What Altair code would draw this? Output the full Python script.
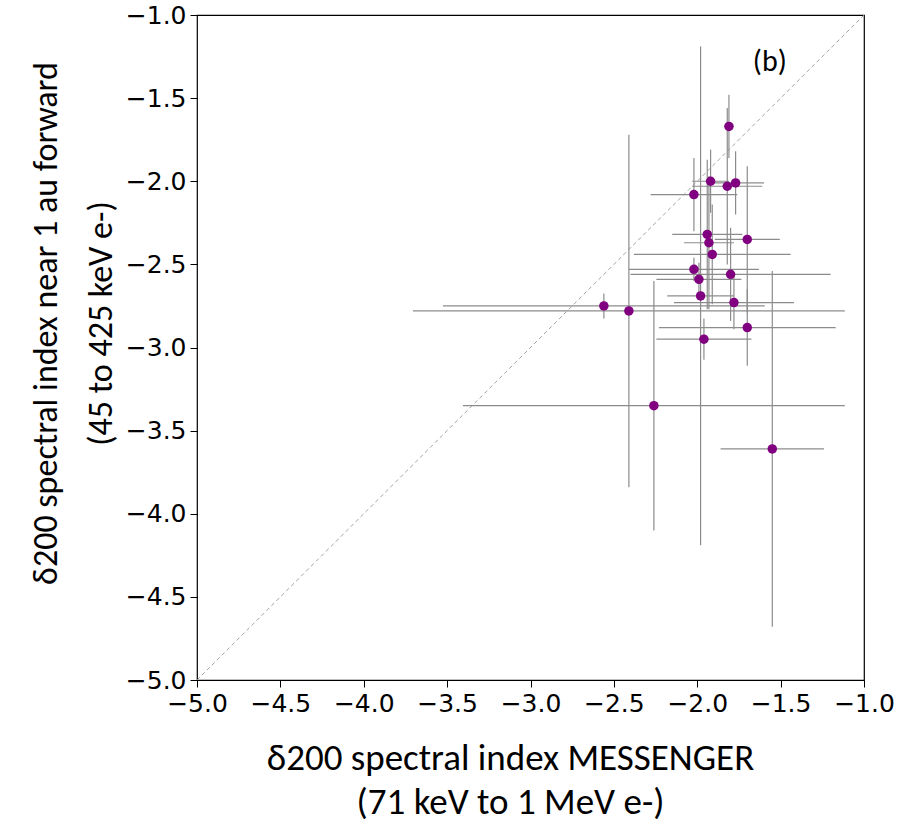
import altair as alt
import pandas as pd

# MESSENGER spectral index (x) and near-1-au forward spectral index (y)
x_vals = [-1.81, -1.92, -1.82, -1.77, -2.02, -1.94, -1.93, -1.70, -1.91, -2.02,
          -1.99, -1.80, -1.98, -1.78, -2.56, -2.41, -1.70, -1.96, -2.26, -1.55]
y_vals = [-1.67, -2.00, -2.03, -2.01, -2.08, -2.32, -2.37, -2.35, -2.44, -2.53,
          -2.59, -2.56, -2.69, -2.73, -2.75, -2.78, -2.88, -2.95, -3.35, -3.61]
x_err = [0.03, 0.11, 0.21, 0.17, 0.26, 0.21, 0.15, 0.195, 0.47, 0.39,
         0.255, 0.60, 0.20, 0.36, 0.965, 1.295, 0.53, 0.285, 1.145, 0.31]
y_err = [0.19, 0.19, 0.47, 0.19, 0.22, 0.45, 0.40, 0.44, 0.30, 0.07,
         0.10, 0.28, 1.50, 0.16, 0.075, 1.06, 0.23, 0.124, 0.75, 1.07]

diag_vals = [-5.0, -1.0]
tick_vals = [-5.0, -4.5, -4.0, -3.5, -3.0, -2.5, -2.0, -1.5, -1.0]
panel_label = "(b)"
panel_pos = (-1.565, -1.285)

df = pd.DataFrame({"x": x_vals, "y": y_vals, "xe": x_err, "ye": y_err})
df["xlo"] = df["x"] - df["xe"]
df["xhi"] = df["x"] + df["xe"]
df["ylo"] = df["y"] - df["ye"]
df["yhi"] = df["y"] + df["ye"]

diag = pd.DataFrame({"a": diag_vals})

xscale = alt.Scale(domain=[-5, -1], nice=False, zero=False)
yscale = alt.Scale(domain=[-5, -1], nice=False, zero=False)

tick_font = "DejaVu Sans"
title_font = "Carlito, Lato, sans-serif"

xaxis = alt.Axis(values=tick_vals, format=".1f", grid=False, domain=False,
                 tickColor="black", tickSize=7, tickWidth=1,
                 labelFont=tick_font, labelFontSize=25, labelColor="black",
                 labelPadding=4, labelOverlap=False, labelFlush=False,
                 title=["δ200 spectral index MESSENGER", "(71 keV to 1 MeV e-)"],
                 titleFont=title_font, titleFontSize=37, titleFontWeight="normal",
                 titleColor="black", titlePadding=24, titleLineHeight=44,
                 titleX=313)
yaxis = alt.Axis(values=tick_vals, format=".1f", grid=False, domain=False,
                 tickColor="black", tickSize=7, tickWidth=1,
                 labelFont=tick_font, labelFontSize=25, labelColor="black",
                 labelPadding=4, labelOverlap=False, labelFlush=False,
                 title=["δ200 spectral index near 1 au forward", "(45 to 425 keV e-)"],
                 titleFont=title_font, titleFontSize=34, titleFontWeight="normal",
                 titleColor="black", titlePadding=7, titleLineHeight=55,
                 titleY=308)

line = alt.Chart(diag).mark_line(color="#999999", strokeWidth=0.9,
                                 strokeDash=[4, 3]).encode(
    x=alt.X("a:Q", scale=xscale, axis=xaxis),
    y=alt.Y("a:Q", scale=yscale, axis=yaxis),
)

hbars = alt.Chart(df).mark_rule(color="#8c8c8c", strokeWidth=1.2).encode(
    x=alt.X("xlo:Q", scale=xscale), x2="xhi:Q", y=alt.Y("y:Q", scale=yscale)
)
vbars = alt.Chart(df).mark_rule(color="#8c8c8c", strokeWidth=1.2).encode(
    y=alt.Y("ylo:Q", scale=yscale), y2="yhi:Q", x=alt.X("x:Q", scale=xscale)
)
pts = alt.Chart(df).mark_point(filled=True, shape="circle", size=90,
                               color="#800080", opacity=1).encode(
    x=alt.X("x:Q", scale=xscale), y=alt.Y("y:Q", scale=yscale)
)
label = alt.Chart(pd.DataFrame({"x": [panel_pos[0]], "y": [panel_pos[1]],
                                "t": [panel_label]})).mark_text(
    font=title_font, fontSize=30, color="black", align="center", baseline="middle"
).encode(x=alt.X("x:Q", scale=xscale), y=alt.Y("y:Q", scale=yscale), text="t:N")

chart = alt.layer(line, hbars, vbars, pts, label).properties(
    width=667, height=665,
    autosize=alt.AutoSizeParams(type="none"),
    padding={"left": 197, "top": 15, "right": 38, "bottom": 144},
    background="white",
).configure_view(stroke="black", strokeWidth=1.2)

chart.save("out.html", embed_options={"renderer": "svg", "actions": False})
